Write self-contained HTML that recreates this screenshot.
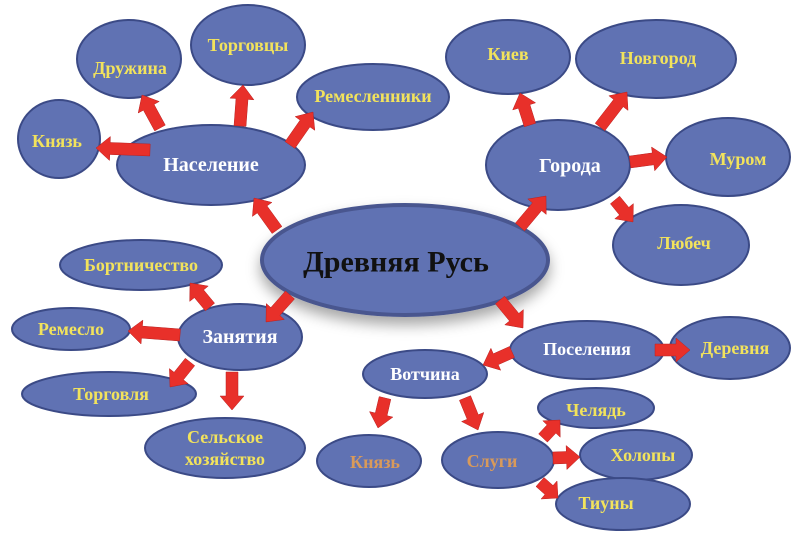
<!DOCTYPE html>
<html><head><meta charset="utf-8"><style>
body{margin:0;background:#fff;width:800px;height:540px;overflow:hidden}
text{font-family:"Liberation Serif","DejaVu Serif",serif;font-weight:bold;text-anchor:middle;dominant-baseline:central}
.y{fill:#f2e35c;font-size:18px}
.w{fill:#fff;font-size:20px}
.o{fill:#d99a5a;font-size:18px}
ellipse{fill:#6072b3;stroke:#3b4a86;stroke-width:2}
</style></head><body>
<svg id="s" width="800" height="540" xmlns="http://www.w3.org/2000/svg">
<defs><filter id="sh" x="-20%" y="-20%" width="140%" height="160%"><feDropShadow dx="0" dy="8" stdDeviation="7" flood-color="#000" flood-opacity="0.35"/></filter></defs>
<g id="el">
<ellipse cx="405" cy="260" rx="143" ry="55" style="stroke:#48568f;stroke-width:4" filter="url(#sh)"/>
<ellipse cx="211" cy="165" rx="94" ry="40"/>
<ellipse cx="59" cy="139" rx="41" ry="39"/>
<ellipse cx="129" cy="59" rx="52" ry="39"/>
<ellipse cx="248" cy="45" rx="57" ry="40"/>
<ellipse cx="373" cy="97" rx="76" ry="33"/>
<ellipse cx="558" cy="165" rx="72" ry="45"/>
<ellipse cx="508" cy="57" rx="62" ry="37"/>
<ellipse cx="656" cy="59" rx="80" ry="39"/>
<ellipse cx="728" cy="157" rx="62" ry="39"/>
<ellipse cx="681" cy="245" rx="68" ry="40"/>
<ellipse cx="240" cy="337" rx="62" ry="33"/>
<ellipse cx="141" cy="265" rx="81" ry="25"/>
<ellipse cx="71" cy="329" rx="59" ry="21"/>
<ellipse cx="109" cy="394" rx="87" ry="22"/>
<ellipse cx="225" cy="448" rx="80" ry="30"/>
<ellipse cx="587" cy="350" rx="77" ry="29"/>
<ellipse cx="730" cy="348" rx="60" ry="31"/>
<ellipse cx="425" cy="374" rx="62" ry="24"/>
<ellipse cx="369" cy="461" rx="52" ry="26"/>
<ellipse cx="498" cy="460" rx="56" ry="28"/>
<ellipse cx="596" cy="408" rx="58" ry="20"/>
<ellipse cx="636" cy="455" rx="56" ry="25"/>
<ellipse cx="623" cy="504" rx="67" ry="26"/>
</g>
<g id="ar" fill="#e8302a" stroke="#b82020" stroke-width="0.5"></g>
<text x="396" y="262" style="font-size:30px;fill:#111">Древняя Русь</text>
<text class="w" x="211" y="165">Население</text>
<text class="y" x="57" y="141">Князь</text>
<text class="y" x="130" y="68">Дружина</text>
<text class="y" x="248" y="45">Торговцы</text>
<text class="y" x="373" y="96">Ремесленники</text>
<text class="w" x="570" y="166">Города</text>
<text class="y" x="508" y="54">Киев</text>
<text class="y" x="658" y="58">Новгород</text>
<text class="y" x="738" y="159">Муром</text>
<text class="y" x="684" y="243">Любеч</text>
<text class="w" x="240" y="337">Занятия</text>
<text class="y" x="141" y="265">Бортничество</text>
<text class="y" x="71" y="329">Ремесло</text>
<text class="y" x="111" y="394">Торговля</text>
<text class="y" x="225" y="437">Сельское</text>
<text class="y" x="225" y="459">хозяйство</text>
<text class="w" x="587" y="349" style="font-size:18px">Поселения</text>
<text class="y" x="735" y="348">Деревня</text>
<text class="w" x="425" y="374" style="font-size:18px">Вотчина</text>
<text class="o" x="375" y="462">Князь</text>
<text class="o" x="492" y="461">Слуги</text>
<text class="y" x="596" y="410">Челядь</text>
<text class="y" x="643" y="455">Холопы</text>
<text class="y" x="606" y="503">Тиуны</text>
</svg>
<script>
var A=[[150,150,96,148],[160,128,142,95],[240,126,243,85],[290,145,313,112],[277,230,254,198],[520,227,546,196],[530,125,520,93],[600,127,627,92],[630,162,667,157],[615,200,633,222],[290,295,266,322],[210,307,190,283],[180,335,128,331],[190,362,170,387],[232,372,232,410],[500,300,523,328],[655,350,690,350],[512,352,483,365],[385,398,378,428],[465,398,478,430],[543,438,560,420],[553,458,580,457],[540,482,558,498]];
var g=document.getElementById('ar'),h='';
A.forEach(function(a){var dx=a[2]-a[0],dy=a[3]-a[1],L=Math.hypot(dx,dy),ux=dx/L,uy=dy/L,px=-uy,py=ux,s=6,w=12,hl=Math.min(14,L*0.5);
var bx=a[2]-ux*hl,by=a[3]-uy*hl;
var p=[[a[0]+px*s,a[1]+py*s],[bx+px*s,by+py*s],[bx+px*w,by+py*w],[a[2],a[3]],[bx-px*w,by-py*w],[bx-px*s,by-py*s],[a[0]-px*s,a[1]-py*s]];
h+='<polygon points="'+p.map(function(q){return q[0].toFixed(1)+','+q[1].toFixed(1)}).join(' ')+'"/>';});
g.innerHTML=h;
</script>
</body></html>
